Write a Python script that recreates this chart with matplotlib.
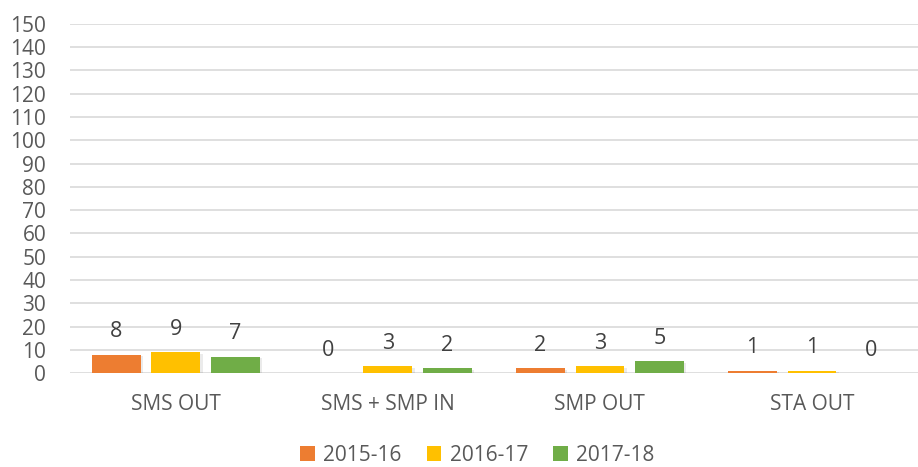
import matplotlib
matplotlib.use("Agg")
import matplotlib.pyplot as plt
import numpy as np

categories = ["SMS OUT", "SMS + SMP IN", "SMP OUT", "STA OUT"]
series_names = ["2015-16", "2016-17", "2017-18"]
v2015 = [8, 0, 2, 1]
v2016 = [9, 3, 3, 1]
v2017 = [7, 2, 5, 0]
yticks = list(range(0, 151, 10))

colors = ["#ED7D31", "#FFC000", "#70AD47"]
txt = "#595959"
plt.rcParams['font.family'] = ['Open Sans', 'DejaVu Sans']

fig = plt.figure(figsize=(9.18, 4.67), dpi=100)
ax = fig.add_axes([0.076, 0.201, 0.924, 0.748])

x = np.arange(len(categories))
w = 0.23
off = 0.28
for i, (vals, name, c) in enumerate(zip([v2015, v2016, v2017], series_names, colors)):
    pos = x + (i - 1) * off
    # soft shadow
    ax.bar(pos + 0.006, vals, w + 0.01, bottom=-0.6, color="#000000", alpha=0.08, zorder=2, linewidth=0)
    ax.bar(pos, vals, w, color=c, label=name, zorder=3, linewidth=0)
    for p, v in zip(pos, vals):
        ax.annotate(str(v), (p, v), xytext=(0, 9), textcoords="offset points",
                    ha="center", va="bottom", fontsize=15.5, color="#404040")

ax.set_xlim(-0.5, len(categories) - 0.5)
ax.set_ylim(0, 150)
ax.set_yticks(yticks)
ax.set_yticklabels([str(t) for t in yticks])
ax.set_xticks(x)
ax.set_xticklabels(categories)
ax.grid(axis="y", color="#D9D9D9", linewidth=1.2, zorder=0)
ax.set_axisbelow(True)
for s in ax.spines.values():
    s.set_visible(False)
ax.tick_params(axis="both", length=0, labelsize=15, colors=txt)
ax.tick_params(axis="x", pad=15)
ax.tick_params(axis="y", pad=17)

leg = fig.legend(loc="lower center", ncol=3, frameon=False, fontsize=15,
                 bbox_to_anchor=(0.52, 0.003), handlelength=0.7, handleheight=0.7,
                 columnspacing=1.2, handletextpad=0.4, borderpad=0.0, borderaxespad=0.0)
for t in leg.get_texts():
    t.set_color(txt)

fig.savefig("out.png", dpi=100)
